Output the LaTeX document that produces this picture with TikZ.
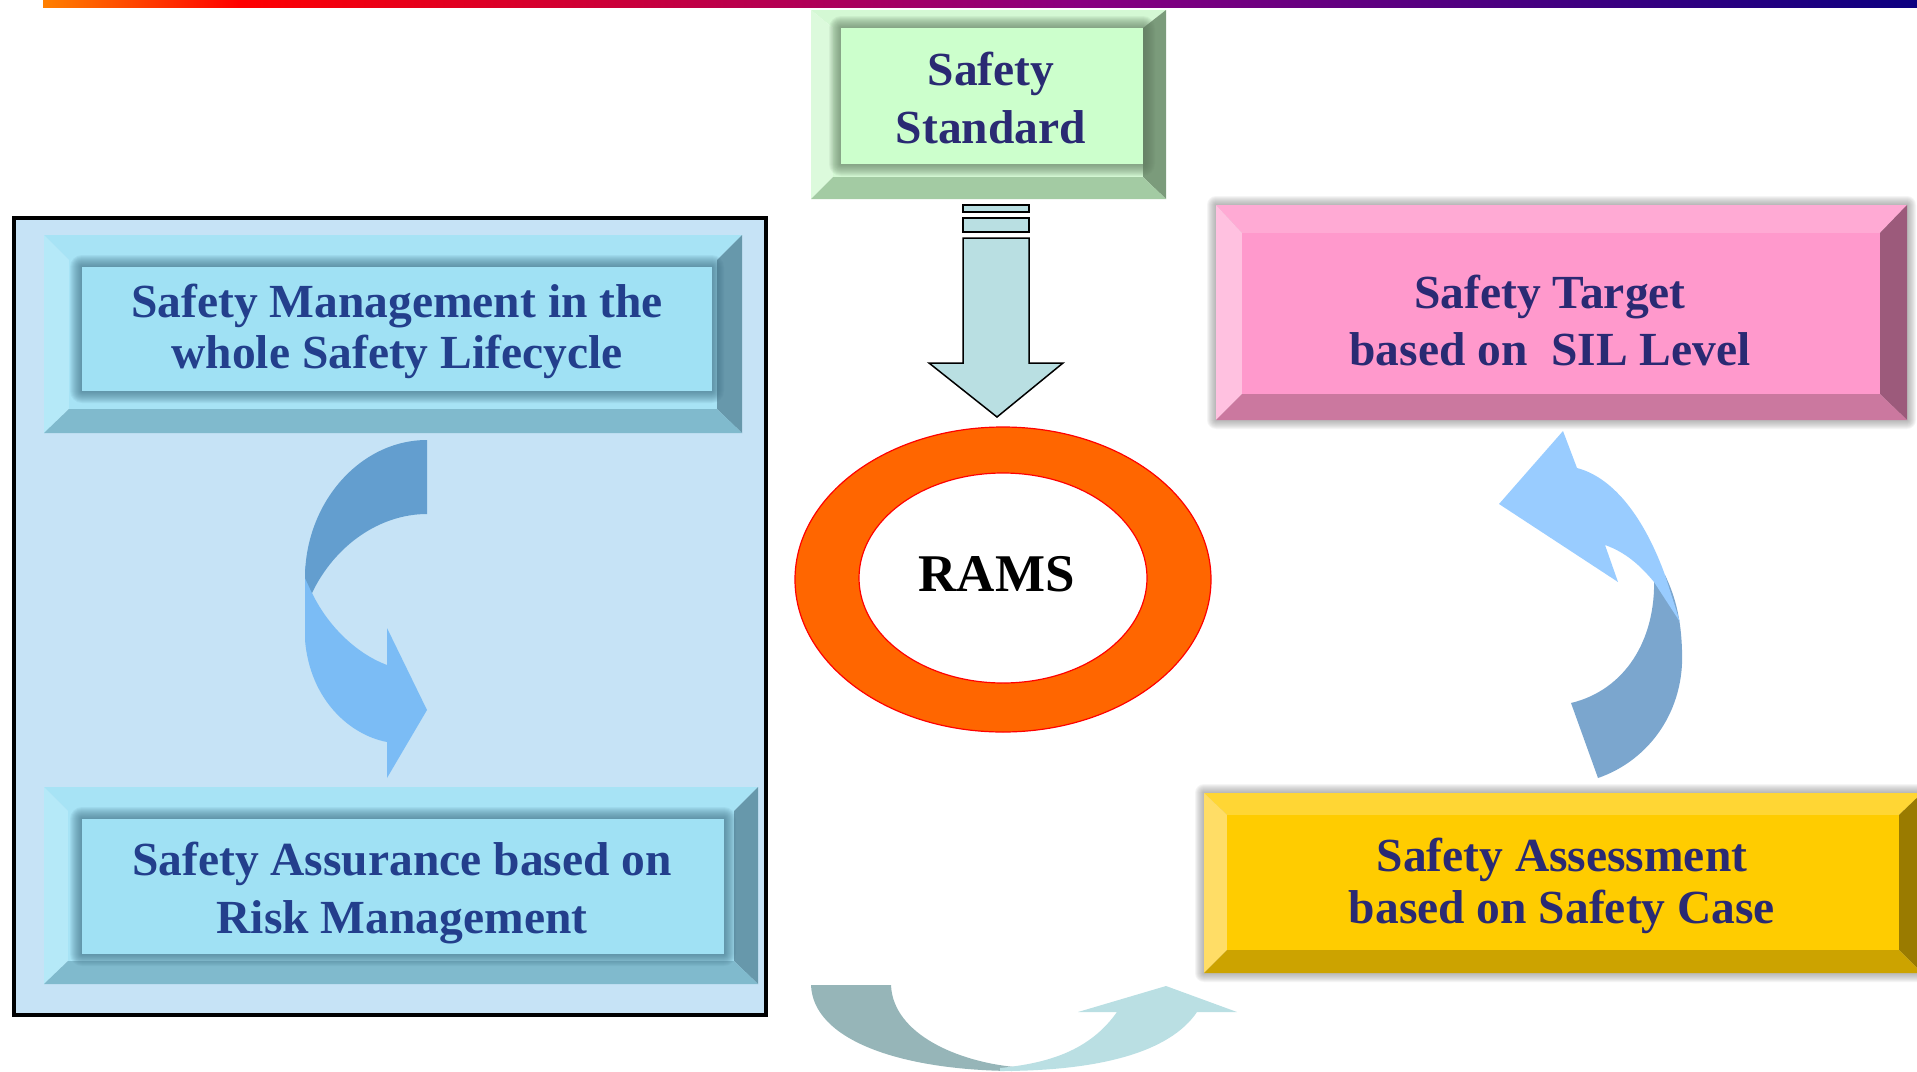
\documentclass[tikz,border=0pt]{standalone}
\usepackage{fontspec}
\setmainfont{Liberation Serif}
\usetikzlibrary{shapes.geometric}

% palette
\definecolor{barorange}{HTML}{FF8000}
\definecolor{barred}{HTML}{FF0000}
\definecolor{barpurple}{HTML}{8A0080}
\definecolor{barnavy}{HTML}{0C0080}
\definecolor{panelblue}{HTML}{C6E3F6}
\definecolor{cynT}{HTML}{A7E3F5}
\definecolor{cynL}{HTML}{B5E9F8}
\definecolor{cynR}{HTML}{6798AB}
\definecolor{cynB}{HTML}{80BACD}
\definecolor{cynF}{HTML}{A0E1F4}
\definecolor{cynG}{HTML}{3F6F84}
\definecolor{grnT}{HTML}{D4F8D4}
\definecolor{grnL}{HTML}{DCFADC}
\definecolor{grnR}{HTML}{7B9B7B}
\definecolor{grnB}{HTML}{A3CBA3}
\definecolor{grnF}{HTML}{CCFFCC}
\definecolor{grnG}{HTML}{5F7A5F}
\definecolor{pnkT}{HTML}{FFAAD4}
\definecolor{pnkL}{HTML}{FFC1E0}
\definecolor{pnkR}{HTML}{9C5A7B}
\definecolor{pnkB}{HTML}{CB789F}
\definecolor{pnkF}{HTML}{FF99CC}
\definecolor{ylwT}{HTML}{FFD634}
\definecolor{ylwL}{HTML}{FFDD66}
\definecolor{ylwR}{HTML}{9A7B00}
\definecolor{ylwB}{HTML}{CCA300}
\definecolor{ylwF}{HTML}{FFCC00}
\definecolor{haze}{HTML}{7A7A7A}
\definecolor{navyA}{HTML}{2A2A73}
\definecolor{navyB}{HTML}{233F8C}
\definecolor{shaftfill}{HTML}{B9DFE2}
\definecolor{ringorange}{HTML}{FF6600}
\definecolor{larDark}{HTML}{639ECF}
\definecolor{larLight}{HTML}{7BBCF5}
\definecolor{rarDark}{HTML}{7BA6CE}
\definecolor{rarLight}{HTML}{99CCFF}
\definecolor{botDark}{HTML}{96B5B8}
\definecolor{botLight}{HTML}{BADFE3}

% bevelled frame: #1 colour prefix, #2-#5 outer corners, #6-#9 inner corners
\newcommand\bevelframe[9]{%
  \fill[#1T] (#2,#3) -- (#4,#3) -- (#8,#7) -- (#6,#7) -- cycle;
  \fill[#1L] (#2,#3) -- (#6,#7) -- (#6,#9) -- (#2,#5) -- cycle;
  \fill[#1R] (#4,#3) -- (#4,#5) -- (#8,#9) -- (#8,#7) -- cycle;
  \fill[#1B] (#2,#5) -- (#6,#9) -- (#8,#9) -- (#4,#5) -- cycle;
  \fill[#1T] (#6,#7) rectangle (#8,#9);
}
% soft halo round a rectangle: #1 colour, #2-#5 corners, #6 spread
\newcommand\softhalo[6]{%
  \foreach \g in {1,...,#6}{%
    \fill[#1,opacity=0.08,rounded corners=\g pt] (#2-\g,#3-\g) rectangle (#4+\g,#5+\g);}
}

\tikzset{
  facebox/.style={rectangle,inner sep=0pt,outer sep=0pt,draw=none},
  ringbox/.style={ellipse,inner sep=0pt,outer sep=0pt},
  lbl/.style={anchor=north,inner sep=0pt,align=center},
}

\begin{document}
\begin{tikzpicture}[x=1pt,y=-1pt]
\useasboundingbox (0,0) rectangle (1917,1071);

% title rule
\shade[left color=barorange,right color=barred] (43,0) rectangle (239,7);
\shade[left color=barred,right color=barnavy,middle color=barpurple] (238,0) rectangle (1917,7);

% left panel
\node[facebox,draw=black,line width=4pt,fill=panelblue,minimum width=752pt,minimum height=797pt] (panel) at (390,616.5) {};

% Safety Management box
\bevelframe{cyn}{44}{235}{742}{433}{69}{260}{717}{409}
\softhalo{cynG}{82}{267}{712}{391}{12}
\node[facebox,fill=cynF,minimum width=630pt,minimum height=124pt] (mgmt) at (397,329) {};
\node[lbl,text=navyB,font=\fontsize{47.5}{51}\selectfont\bfseries] (mgmttxt) at (397,277)
  {\rule{0pt}{40pt}Safety Management in the\\whole Safety Lifecycle};

% Safety Assurance box
\bevelframe{cyn}{44}{787}{758}{984}{68}{811}{734}{961}
\softhalo{cynG}{82}{819}{724}{954}{12}
\node[facebox,fill=cynF,minimum width=642pt,minimum height=135pt] (assur) at (403,886.5) {};
\node[lbl,text=navyB,font=\fontsize{47.5}{58}\selectfont\bfseries] (assurtxt) at (402,835)
  {\rule{0pt}{40pt}Safety Assurance based on\\Risk Management};

% curved arrow inside the panel
\fill[larLight] (305,565) -- (305,640) .. controls (310,700) and (350,735) .. (387,742)
  -- (387,778) -- (427,710) -- (387,628) -- (387,665)
  .. controls (360,655) and (330,630) .. (312,593) -- cycle;
\fill[larDark] (427,440) -- (427,514) .. controls (380,514) and (335,545) .. (312,593)
  -- (305,578) .. controls (305,503) and (360,440) .. (427,440) -- cycle;

% Safety Standard box
\bevelframe{grn}{811}{10}{1166}{199}{833}{28}{1143}{177}
\softhalo{grnG}{841}{28}{1143}{164}{12}
\node[facebox,fill=grnF,minimum width=302pt,minimum height=136pt] (std) at (992,96) {};
\node[lbl,text=navyA,font=\fontsize{47.5}{58}\selectfont\bfseries] (stdtxt) at (991,45)
  {\rule{0pt}{40pt}Safety\\Standard};

% striped down arrow
\filldraw[fill=shaftfill,draw=black,line width=1.5pt] (963,205) rectangle (1029,212);
\filldraw[fill=shaftfill,draw=black,line width=1.5pt] (963,218) rectangle (1029,232);
\filldraw[fill=shaftfill,draw=black,line width=1.5pt]
  (963,238) -- (1029,238) -- (1029,363) -- (1063,363) -- (997,417) -- (929,363) -- (963,363) -- cycle;

% RAMS ring
\node[ringbox,fill=ringorange,draw=barred,line width=1.2pt,minimum width=416pt,minimum height=305pt] (ring) at (1003,579.5) {};
\node[ringbox,fill=white,draw=barred,line width=1.2pt,minimum width=288pt,minimum height=210pt] (hole) at (1003,578) {};
\node[lbl,text=black,font=\fontsize{53}{60}\selectfont\bfseries] (rams) at (996.5,549)
  {\rule{0pt}{42pt}RAMS};

% Safety Target box
\softhalo{haze}{1216}{205}{1907}{420}{9}
\bevelframe{pnk}{1216}{205}{1907}{420}{1242}{233}{1880}{394}
\node[facebox,fill=pnkF,minimum width=638pt,minimum height=161pt] (target) at (1561,313.5) {};
\node[lbl,text=navyA,font=\fontsize{47.5}{57}\selectfont\bfseries] (targettxt) at (1550,268)
  {\rule{0pt}{40pt}Safety Target\\based on\ \ SIL Level};

% Safety Assessment box
\softhalo{haze}{1204}{793}{1922}{973}{9}
\bevelframe{ylw}{1204}{793}{1922}{973}{1227}{815}{1899}{950}
\node[facebox,fill=ylwF,minimum width=672pt,minimum height=135pt] (assess) at (1563,882.5) {};
\node[lbl,text=navyA,font=\fontsize{47.5}{52}\selectfont\bfseries] (assesstxt) at (1562,831)
  {\rule{0pt}{40pt}Safety Assessment\\based on Safety Case};

% curved arrow from assessment up to target
\fill[rarDark] (1654,578) .. controls (1656,640) and (1625,690) .. (1571,703)
  -- (1598,778) .. controls (1650,760) and (1685,710) .. (1682,650)
  .. controls (1681,620) and (1676,598) .. (1665,575) -- cycle;
\fill[rarLight] (1563,431) -- (1577,468) .. controls (1615,478) and (1645,520) .. (1665,575)
  -- (1680,622) -- (1654,582) .. controls (1640,565) and (1625,552) .. (1605,545)
  -- (1618,582) -- (1499,504) -- cycle;

% curved arrow along the bottom
\fill[botDark] (811,985) -- (891,985) .. controls (893,1035) and (960,1062) .. (1015,1067)
  -- (1012,1071) .. controls (900,1070) and (813,1040) .. (811,985) -- cycle;
\fill[botLight] (1117,1012) .. controls (1090,1050) and (1050,1063) .. (1000,1068)
  -- (1000,1071) .. controls (1100,1071) and (1170,1052) .. (1197,1012)
  -- (1237,1012) -- (1166,986) -- (1078,1012) -- cycle;
\end{tikzpicture}
\end{document}
